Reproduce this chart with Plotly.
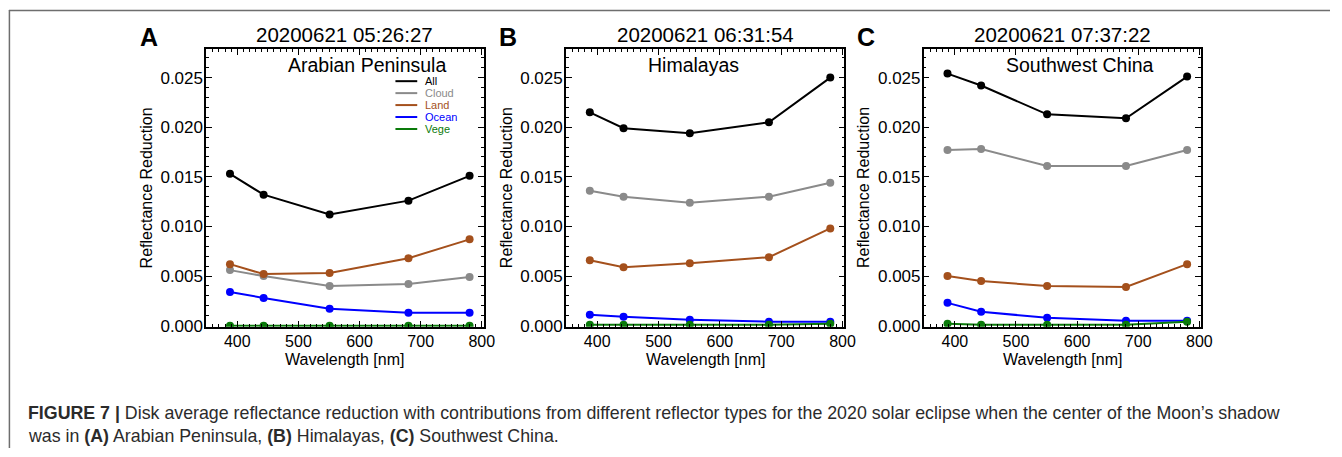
import plotly.graph_objects as go

# Wavelengths of the EPIC channels used [nm]
WAVELENGTH = [388, 443, 551, 680, 780]

SERIES = ["All", "Cloud", "Land", "Ocean", "Vege"]
COLORS = {"All": "#000000", "Cloud": "#8a8a8a", "Land": "#a4501c",
          "Ocean": "#0000ff", "Vege": "#0a7a0a"}

# Panel A: Arabian Peninsula
ARABIAN_ALL = [0.0153, 0.0132, 0.0112, 0.0126, 0.0151]
ARABIAN_CLOUD = [0.0056, 0.0050, 0.0040, 0.0042, 0.0049]
ARABIAN_LAND = [0.0062, 0.0052, 0.0053, 0.0068, 0.0087]
ARABIAN_OCEAN = [0.0034, 0.0028, 0.0017, 0.0013, 0.0013]
ARABIAN_VEGE = [0.0000, 0.0000, 0.0000, 0.0000, 0.0000]

# Panel B: Himalayas
HIMALAYA_ALL = [0.0215, 0.0199, 0.0194, 0.0205, 0.0250]
HIMALAYA_CLOUD = [0.0136, 0.0130, 0.0124, 0.0130, 0.0144]
HIMALAYA_LAND = [0.0066, 0.0059, 0.0063, 0.0069, 0.0098]
HIMALAYA_OCEAN = [0.0011, 0.0009, 0.0006, 0.0004, 0.0004]
HIMALAYA_VEGE = [0.0001, 0.0001, 0.0001, 0.0001, 0.0002]

# Panel C: Southwest China
SWCHINA_ALL = [0.0254, 0.0242, 0.0213, 0.0209, 0.0251]
SWCHINA_CLOUD = [0.0177, 0.0178, 0.0161, 0.0161, 0.0177]
SWCHINA_LAND = [0.0050, 0.0045, 0.0040, 0.0039, 0.0062]
SWCHINA_OCEAN = [0.0023, 0.0014, 0.0008, 0.0005, 0.0005]
SWCHINA_VEGE = [0.0002, 0.0001, 0.0001, 0.0001, 0.0004]

PANEL_LETTERS = ["A", "B", "C"]
PANEL_TIMES = ["20200621 05:26:27", "20200621 06:31:54", "20200621 07:37:22"]
PANEL_REGIONS = ["Arabian Peninsula", "Himalayas", "Southwest China"]
PANEL_DATA = [
    [ARABIAN_ALL, ARABIAN_CLOUD, ARABIAN_LAND, ARABIAN_OCEAN, ARABIAN_VEGE],
    [HIMALAYA_ALL, HIMALAYA_CLOUD, HIMALAYA_LAND, HIMALAYA_OCEAN, HIMALAYA_VEGE],
    [SWCHINA_ALL, SWCHINA_CLOUD, SWCHINA_LAND, SWCHINA_OCEAN, SWCHINA_VEGE],
]

X_LABEL = "Wavelength [nm]"
Y_LABEL = "Reflectance Reduction"

W, H = 1342, 457
FONT = "Liberation Sans, Arial, Helvetica, sans-serif"
Y_STRETCH = 1.016  # small vertical stretch of the layout grid


def fx(px):
    return px / W


def fy(py):
    return max(0.0, 1 - py * Y_STRETCH / H)


def label(text, px, py, size, color="#000", xanchor="center", angle=0):
    return dict(text=text, x=fx(px), y=fy(py), xref="paper", yref="paper",
                xanchor=xanchor, yanchor="middle", textangle=angle,
                showarrow=False, font=dict(family=FONT, size=size, color=color))


# plot frames in pixels: (left, right); shared top / bottom
FRAMES = [(208, 488), (571, 852), (932, 1212)]
TOP, BOTTOM = 49, 328

fig = go.Figure()
annotations = []
shapes = []

for i, (left, right) in enumerate(FRAMES):
    n = "" if i == 0 else str(i + 1)
    for name, vals in zip(SERIES, PANEL_DATA[i]):
        fig.add_trace(go.Scatter(
            x=WAVELENGTH, y=vals, mode="lines+markers", name=name,
            line=dict(color=COLORS[name], width=2),
            marker=dict(color=COLORS[name], size=8),
            xaxis="x" + n, yaxis="y" + n, showlegend=False,
        ))

    axis_common = dict(
        showline=True, mirror="allticks", linecolor="#000", linewidth=1.5,
        ticks="inside", ticklen=6, tickwidth=1.2, tickcolor="#000",
        showgrid=False, zeroline=False,
    )
    fig.update_layout(**{
        "xaxis" + n: dict(
            domain=[fx(left), fx(right)], anchor="y" + n, range=[349, 803],
            tickvals=[400, 500, 600, 700, 800], ticklabelstandoff=-1,
            tickfont=dict(family=FONT, size=16, color="#000"),
            minor=dict(ticks="inside", ticklen=3, tickwidth=1, dtick=10,
                       tick0=0, tickcolor="#000"),
            **axis_common),
        "yaxis" + n: dict(
            domain=[fy(BOTTOM), fy(TOP)], anchor="x" + n, range=[-0.0001, 0.0279],
            tickvals=[0.0, 0.005, 0.010, 0.015, 0.020, 0.025],
            tickformat=".3f", ticklabelstandoff=-2,
            tickfont=dict(family=FONT, size=17, color="#000"),
            minor=dict(ticks="inside", ticklen=3, tickwidth=1, dtick=0.001,
                       tick0=0, tickcolor="#000"),
            **axis_common),
    })

    cx = (left + right) / 2
    annotations.append(label("<b>" + PANEL_LETTERS[i] + "</b>", left - 58, 37, 25))
    annotations.append(label(PANEL_TIMES[i], cx, 35, 20.5))
    annotations.append(label(PANEL_REGIONS[i], left + 81, 65, 19.5, xanchor="left"))
    annotations.append(label(Y_LABEL, left - 60, (TOP + BOTTOM) / 2, 16, angle=-90))
    annotations.append(label(X_LABEL, cx, 361, 16))

# legend drawn inside panel A
LEG_ROWS = [81.5, 93.5, 105.5, 117.5, 129.5]
for name, ry in zip(SERIES, LEG_ROWS):
    shapes.append(dict(type="line", xref="paper", yref="paper",
                       x0=fx(399), x1=fx(421), y0=fy(ry), y1=fy(ry),
                       line=dict(color=COLORS[name], width=2)))
    annotations.append(label(name, 427, ry, 11, color=COLORS[name], xanchor="left"))

# page frame lines
shapes.append(dict(type="line", xref="paper", yref="paper",
                   x0=fx(9), x1=1, y0=fy(10.5), y1=fy(10.5),
                   line=dict(color="#6e6e6e", width=1.5)))
shapes.append(dict(type="line", xref="paper", yref="paper",
                   x0=fx(9.5), x1=fx(9.5), y0=fy(10), y1=0,
                   line=dict(color="#6e6e6e", width=1.5)))

# figure caption
CAPTION_1 = ("<b>FIGURE 7 |</b> Disk average reflectance reduction with contributions "
             "from different reflector types for the 2020 solar eclipse when the "
             "center of the Moon\u2019s shadow")
CAPTION_2 = ("was in <b>(A)</b> Arabian Peninsula, <b>(B)</b> Himalayas, "
             "<b>(C)</b> Southwest China.")
annotations.append(label(CAPTION_1, 26, 415, 17.8, color="#2b2b2b", xanchor="left"))
annotations.append(label(CAPTION_2, 26, 438, 17.8, color="#2b2b2b", xanchor="left"))

fig.update_layout(
    width=W, height=H, margin=dict(l=0, r=0, t=0, b=0),
    paper_bgcolor="#fff", plot_bgcolor="#fff",
    annotations=annotations, shapes=shapes,
)

fig.write_html("out.html")
